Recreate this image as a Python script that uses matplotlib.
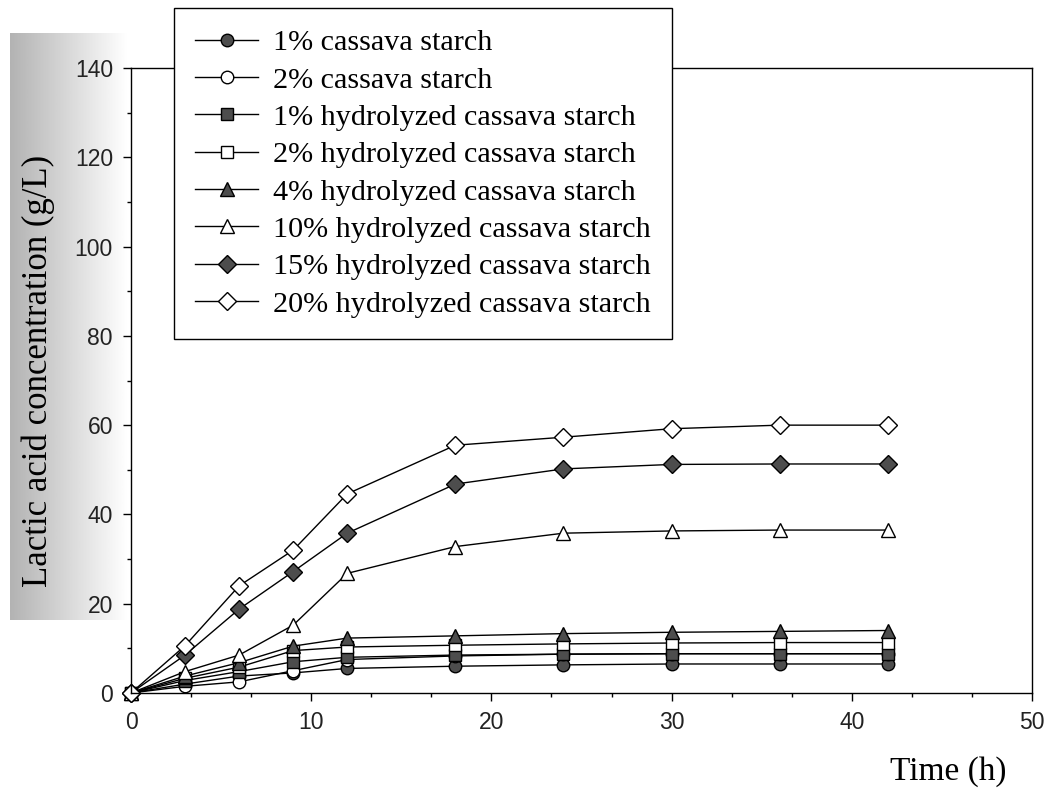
import numpy as np
import matplotlib
matplotlib.use("Agg")
import matplotlib.pyplot as plt
from matplotlib.ticker import MultipleLocator, AutoMinorLocator

# Sampling times (h)
time_h = [0, 3, 6, 9, 12, 18, 24, 30, 36, 42]

# Lactic acid concentration (g/L) for each substrate
cassava_1 = [0, 2.0, 3.8, 4.5, 5.5, 6.0, 6.3, 6.5, 6.5, 6.5]
cassava_2 = [0, 1.5, 2.5, 5.0, 7.5, 8.3, 8.7, 8.8, 8.8, 8.8]
hydro_1 = [0, 2.8, 4.8, 7.0, 8.0, 8.5, 8.7, 8.8, 8.8, 8.8]
hydro_2 = [0, 3.3, 5.8, 9.5, 10.3, 10.7, 11.0, 11.2, 11.3, 11.3]
hydro_4 = [0, 3.8, 6.8, 10.5, 12.3, 12.8, 13.3, 13.6, 13.8, 14.0]
hydro_10 = [0, 4.8, 8.5, 15.2, 26.8, 32.8, 35.8, 36.3, 36.5, 36.5]
hydro_15 = [0, 8.5, 18.8, 27.2, 35.8, 46.8, 50.2, 51.2, 51.3, 51.3]
hydro_20 = [0, 10.6, 24.0, 32.0, 44.6, 55.5, 57.3, 59.2, 60.0, 60.0]

labels = [
    "1% cassava starch",
    "2% cassava starch",
    "1% hydrolyzed cassava starch",
    "2% hydrolyzed cassava starch",
    "4% hydrolyzed cassava starch",
    "10% hydrolyzed cassava starch",
    "15% hydrolyzed cassava starch",
    "20% hydrolyzed cassava starch",
]
series = [cassava_1, cassava_2, hydro_1, hydro_2, hydro_4, hydro_10, hydro_15, hydro_20]

fill = "#4d4d4d"
styles = [
    ("o", fill, 9),
    ("o", "white", 9),
    ("s", fill, 8.5),
    ("s", "white", 8.5),
    ("^", fill, 10),
    ("^", "white", 10),
    ("D", fill, 9),
    ("D", "white", 9),
]

serif = ["Liberation Serif", "DejaVu Serif"]
sans = ["Liberation Sans", "DejaVu Sans"]

fig = plt.figure(figsize=(10.52, 7.95), dpi=100)

# shaded band behind the y label
bg = fig.add_axes([10 / 1052, 1 - 620 / 795, 118 / 1052, 587 / 795], zorder=-5)
grad = np.linspace(0.7, 1.0, 256)[None, :]
bg.imshow(grad, cmap="gray", vmin=0, vmax=1, aspect="auto", extent=[0, 1, 0, 1])
bg.axis("off")

ax = fig.add_axes([131 / 1052, 1 - 693 / 795, 901 / 1052, 625 / 795])
ax.patch.set_alpha(0)

for y, lab, (m, fc, ms) in zip(series, labels, styles):
    ax.plot(time_h, y, color="black", lw=1.0, marker=m, markersize=ms,
            markerfacecolor=fc, markeredgecolor="black", markeredgewidth=1.0,
            label=lab, clip_on=False)

ax.set_xlim(0, 50)
ax.set_ylim(0, 140)
ax.xaxis.set_major_locator(MultipleLocator(10))
ax.xaxis.set_minor_locator(AutoMinorLocator(3))
ax.yaxis.set_major_locator(MultipleLocator(20))
ax.yaxis.set_minor_locator(AutoMinorLocator(2))
ax.tick_params(which="both", direction="out", top=False, right=False, width=1.0)
ax.tick_params(which="major", length=6, labelsize=16.5, pad=7)
ax.tick_params(which="minor", length=3)
for t in ax.get_xticklabels() + ax.get_yticklabels():
    t.set_family(sans)
    t.set_color("#222222")
for s in ax.spines.values():
    s.set_linewidth(1.0)

fig.text(38 / 1052, 1 - 371 / 795, "Lactic acid concentration (g/L)", rotation=90,
         ha="center", va="center", family=serif, fontsize=25)
fig.text(948 / 1052, 1 - 772 / 795, "Time (h)", ha="center", va="center",
         family=serif, fontsize=24)

leg = ax.legend(loc="upper left", bbox_to_anchor=(174 / 1052, 1 - 8 / 795),
                bbox_transform=fig.transFigure, borderaxespad=0,
                prop={"family": serif, "size": 21.7}, handlelength=2.1,
                handletextpad=0.5, labelspacing=0.34, borderpad=0.7,
                fancybox=False, framealpha=1, edgecolor="black")
leg.get_frame().set_linewidth(1.0)

fig.savefig("out.png", dpi=100)
